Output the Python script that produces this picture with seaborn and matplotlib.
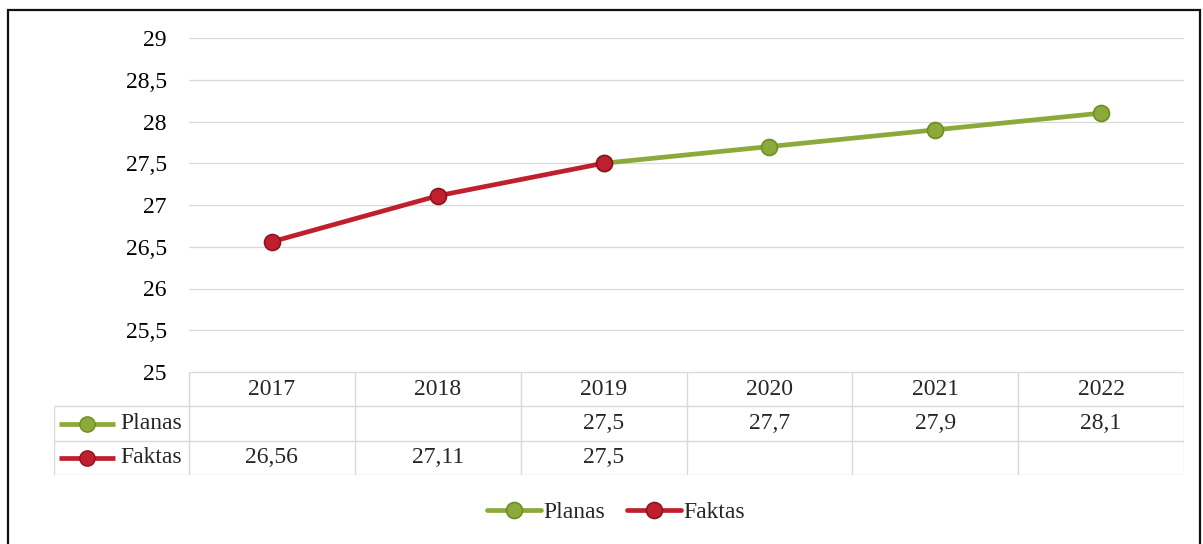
import matplotlib
matplotlib.use("Agg")
import matplotlib.pyplot as plt
from matplotlib.patches import Rectangle
import seaborn as sns
import numpy as np

# ─── Datos ────────────────────────────────────────────────────────────────────
METAI = ["2017", "2018", "2019", "2020", "2021", "2022"]
PLANAS = [np.nan, np.nan, 27.5, 27.7, 27.9, 28.1]
FAKTAS = [26.56, 27.11, 27.5, np.nan, np.nan, np.nan]
Y_TICKS = [25, 25.5, 26, 26.5, 27, 27.5, 28, 28.5, 29]

ZALIA, ZALIA_KR = "#8BAA3A", "#6F8C28"
RAUDONA, RAUDONA_KR = "#C0202E", "#8A1520"
TINKLAS = "#D9D9D9"
FS = 17

sns.set_theme(style="white")
plt.rcParams["font.family"] = ["Liberation Serif", "DejaVu Serif"]

W, H = 1203, 544
fig = plt.figure(figsize=(W / 100, H / 100), dpi=100)


def px(x0, y0, x1, y1):
    """Caja en píxeles (arriba-izquierda) -> rect de figura."""
    return [x0 / W, 1 - y1 / H, (x1 - x0) / W, (y1 - y0) / H]


def kom(v):
    return f"{v:g}".replace(".", ",")


# ─── Gráfico principal ────────────────────────────────────────────────────────
ax = fig.add_axes(px(189, 38, 1184, 372))
x = np.arange(len(METAI))
stil = dict(linewidth=3.4, marker="o", markersize=11.5, markeredgewidth=1.2)
sns.lineplot(x=x, y=PLANAS, ax=ax, color=ZALIA, markeredgecolor=ZALIA_KR,
             label="Planas", **stil)
sns.lineplot(x=x, y=FAKTAS, ax=ax, color=RAUDONA, markeredgecolor=RAUDONA_KR,
             label="Faktas", **stil)
handles, labels = ax.get_legend_handles_labels()
ax.get_legend().remove()

ax.set_xlim(-0.5, len(METAI) - 0.5)
ax.set_ylim(Y_TICKS[0], Y_TICKS[-1])
ax.set_yticks(Y_TICKS)
ax.set_yticklabels([kom(v) for v in Y_TICKS], fontsize=FS, color="black")
ax.set_xticks([])
ax.tick_params(axis="y", length=0, pad=16)
ax.grid(axis="y", color=TINKLAS, linewidth=0.9)
for s in ax.spines.values():
    s.set_visible(False)

# ─── Tabla de datos ───────────────────────────────────────────────────────────
tab = fig.add_axes(px(54, 372, 1184, 475))
x_kair = -0.5 - (189 - 54) / ((1184 - 189) / len(METAI))
tab.set_xlim(x_kair, len(METAI) - 0.5)
tab.set_ylim(3, 0)
tab.axis("off")

kw_l = dict(color=TINKLAS, linewidth=1.0)
tab.hlines(0, -0.5, len(METAI) - 0.5, **kw_l)
tab.hlines([1, 2, 3], x_kair, len(METAI) - 0.5, **kw_l)
tab.vlines(np.arange(len(METAI) + 1) - 0.5, 0, 3, **kw_l)
tab.vlines(x_kair, 1, 3, **kw_l)

for i, m in enumerate(METAI):
    tab.text(i, 0.5, m, ha="center", va="center", fontsize=FS)
for r, (vals, h) in enumerate(zip([PLANAS, FAKTAS], handles), start=1):
    for i, v in enumerate(vals):
        if not np.isnan(v):
            tab.text(i, r + 0.5, kom(v), ha="center", va="center", fontsize=FS)
    # llave de leyenda en la columna de etiquetas
    tab.plot([x_kair + 0.03, x_kair + 0.37], [r + 0.5, r + 0.5],
             color=h.get_color(), linewidth=3.4, solid_capstyle="butt")
    tab.plot([x_kair + 0.2], [r + 0.5], marker="o", markersize=11,
             color=h.get_color(), markeredgecolor=h.get_markeredgecolor())
    tab.text(-0.54, r + 0.5, labels[r - 1], ha="right", va="center", fontsize=FS)

# ─── Leyenda inferior ─────────────────────────────────────────────────────────
fig.legend(handles, labels, loc="center", bbox_to_anchor=(616 / W, 1 - 512 / H),
           ncol=2, frameon=False, fontsize=FS, handlelength=2.3,
           handletextpad=0.1, columnspacing=0.9)

# ─── Marco ────────────────────────────────────────────────────────────────────
fig.patches.append(Rectangle((8 / W, -0.2), (1200 - 8) / W, 1.2 - 10 / H,
                             transform=fig.transFigure, fill=False,
                             edgecolor="#111", linewidth=1.6))

fig.savefig("out.png", dpi=100)
